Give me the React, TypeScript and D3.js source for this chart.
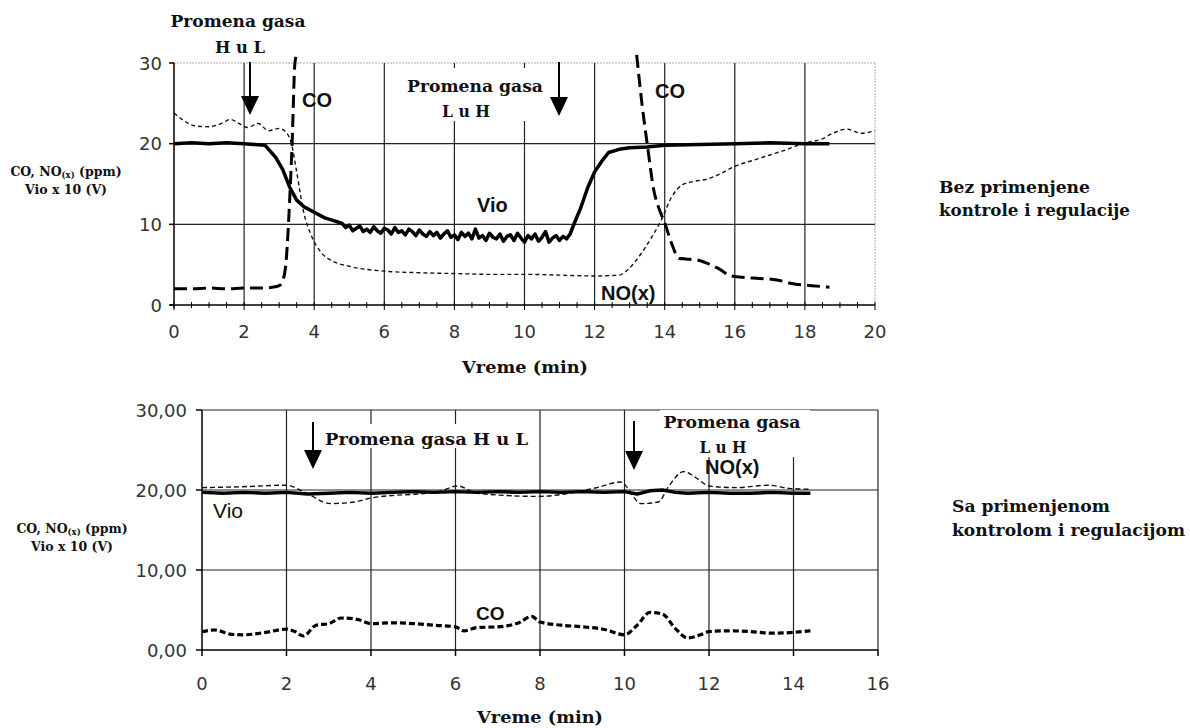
import React from 'react';
import * as d3 from 'd3';

// ---- top chart (bez kontrole) ----
const topTicksX = [0, 2, 4, 6, 8, 10, 12, 14, 16, 18, 20];
const topTicksY = [0, 10, 20, 30];

const topVioT = [0, 0.5, 1, 1.5, 2, 2.3, 2.6, 2.9, 3.1, 3.3, 3.5, 3.7, 4.0, 4.3, 4.6, 4.8,
  4.9, 5.0, 5.1, 5.2, 5.3, 5.4, 5.5, 5.6, 5.7, 5.8, 5.9, 6.0, 6.1, 6.2, 6.3, 6.4, 6.5, 6.6, 6.7, 6.8, 6.9,
  7.0, 7.1, 7.2, 7.3, 7.4, 7.5, 7.6, 7.7, 7.8, 7.9, 8.0, 8.1, 8.2, 8.3, 8.4, 8.5, 8.6, 8.7, 8.8, 8.9,
  9.0, 9.1, 9.2, 9.3, 9.4, 9.5, 9.6, 9.7, 9.8, 9.9, 10.0, 10.1, 10.2, 10.3, 10.4, 10.5, 10.6, 10.7, 10.8, 10.9,
  11.0, 11.1, 11.2, 11.3, 11.4, 11.6, 11.8, 12.0, 12.2, 12.4, 12.7, 13, 13.5, 14, 15, 16, 17, 18, 18.7];
const topVio = [20, 20.1, 20, 20.1, 20, 19.9, 19.8, 18.3, 16.8, 14.6, 13, 12.2, 11.5, 10.8, 10.4, 10.1,
  9.6, 9.9, 9.2, 9.5, 9.8, 9.1, 9.4, 9.0, 9.7, 9.2, 8.9, 9.5, 9.3, 8.8, 9.6, 9.0, 9.2, 8.7, 9.4, 9.1, 8.6,
  9.3, 8.8, 8.5, 9.1, 8.6, 9.0, 8.3, 8.8, 9.2, 8.4, 8.7, 8.1, 9.0, 8.5, 8.9, 8.2, 9.4, 8.3, 8.6, 8.0,
  8.9, 8.4, 8.2, 8.8, 7.9, 8.5, 8.7, 8.0, 8.9, 8.3, 7.8, 8.6, 8.2, 8.8, 7.9, 8.4, 9.1, 7.8, 8.3, 8.6,
  8.0, 8.5, 8.2, 8.8, 9.9, 12.0, 14.5, 16.5, 17.8, 18.9, 19.3, 19.5, 19.6, 19.8, 19.9, 20, 20.1, 20, 20];

const topNoT = [0, 0.3, 0.6, 1, 1.4, 1.6, 1.9, 2.1, 2.4, 2.7, 3.0, 3.2, 3.35, 3.5, 3.7, 3.9, 4.2, 4.5, 5,
  6, 7, 8, 9, 10, 11, 12, 12.7, 13, 13.3, 13.6, 13.9, 14.2, 14.5, 14.8, 15.2, 15.6, 16, 16.5, 17, 17.5,
  18, 18.5, 18.8, 19.2, 19.6, 20];
const topNo = [23.8, 22.8, 22.2, 22.1, 22.6, 23.0, 22.4, 22.0, 22.5, 21.6, 21.9, 21.4, 20.0, 16.5, 11.5,
  8.8, 6.5, 5.5, 4.8, 4.2, 4.0, 3.9, 3.8, 3.8, 3.7, 3.6, 3.7, 4.6, 6.2, 8.2, 10.5, 13.4, 14.9, 15.3, 15.6,
  16.3, 17.2, 17.9, 18.6, 19.3, 20.1, 20.6, 21.3, 21.8, 21.3, 21.6];

const topCo1T = [0, 0.5, 1, 1.5, 2, 2.5, 2.8, 3.0, 3.1, 3.2, 3.3, 3.37, 3.45, 3.5];
const topCo1 = [2, 2, 2.1, 2, 2.1, 2.1, 2.2, 2.4, 3.0, 5.5, 13, 20, 30, 31];
const topCo2T = [13.2, 13.35, 13.5, 13.7, 13.85, 14.0, 14.2, 14.4, 14.6, 14.9, 15.2, 15.5, 15.9, 16.3,
  16.7, 17.2, 17.7, 18.2, 18.7];
const topCo2 = [31, 25, 20, 14, 11.8, 10.2, 7.6, 5.8, 5.7, 5.6, 5.2, 4.6, 3.6, 3.4, 3.3, 3.1, 2.6, 2.4, 2.2];

// ---- bottom chart (sa kontrolom) ----
const botTicksX = [0, 2, 4, 6, 8, 10, 12, 14, 16];
const botTicksY = [0, 10, 20, 30];

const botVioT = [0, 0.5, 1, 1.5, 2, 2.5, 3, 3.5, 4, 4.5, 5, 5.5, 6, 6.5, 7, 7.5, 8, 8.5, 9, 9.5,
  10, 10.3, 10.6, 10.9, 11.2, 11.5, 12, 12.5, 13, 13.5, 14, 14.4];
const botVio = [19.7, 19.6, 19.7, 19.6, 19.7, 19.5, 19.6, 19.7, 19.6, 19.7, 19.8, 19.7, 19.8, 19.7,
  19.8, 19.7, 19.8, 19.7, 19.8, 19.7, 19.8, 19.5, 19.9, 20.0, 19.7, 19.6, 19.7, 19.6, 19.6, 19.7, 19.6, 19.6];

const botNoT = [0, 0.9, 2.0, 2.4, 3.05, 3.6, 4.0, 5.6, 6.06, 6.5, 7.95, 9.35, 9.9, 10.4, 10.8, 11.05,
  11.4, 11.7, 12, 12.65, 13.4, 13.9, 14.35];
const botNo = [20.3, 20.4, 20.6, 19.8, 18.3, 18.5, 19.0, 19.8, 20.5, 19.6, 19.2, 20.3, 21.0, 18.3, 18.5,
  20.5, 22.3, 21.5, 20.5, 20.3, 20.6, 20.2, 20.1];

const botCoT = [0, 0.3, 0.7, 1.0, 1.5, 2.0, 2.2, 2.4, 2.7, 3.0, 3.3, 3.7, 4.0, 4.5, 5.0, 5.5, 6.0, 6.2,
  6.5, 7.0, 7.5, 7.8, 8.0, 8.5, 9.0, 9.5, 10.0, 10.3, 10.6, 10.9, 11.2, 11.5, 11.8, 12.0, 12.5, 13.0,
  13.5, 14.0, 14.4];
const botCo = [2.3, 2.5, 1.96, 1.9, 2.2, 2.6, 2.3, 1.75, 3.1, 3.3, 4.0, 3.8, 3.3, 3.4, 3.3, 3.1, 2.9,
  2.4, 2.8, 2.9, 3.4, 4.2, 3.5, 3.1, 2.9, 2.6, 1.9, 3.1, 4.7, 4.5, 2.7, 1.5, 1.9, 2.3, 2.4, 2.3, 2.1, 2.2, 2.4];

const serif = '"DejaVu Serif", serif';
const sans = '"DejaVu Sans", sans-serif';
const arial = '"Liberation Sans", Arial, sans-serif';
const ink = '#111';

const zip = (t: number[], v: number[]) => t.map((d, i) => [d, v[i]] as [number, number]);

function Arrow({ x, y1, y2 }: { x: number; y1: number; y2: number }) {
  return (
    <g>
      <line x1={x} x2={x} y1={y1} y2={y2 - 16} stroke="#000" strokeWidth={2} />
      <path d={`M${x - 9},${y2 - 19} L${x + 9},${y2 - 19} L${x},${y2} Z`} fill="#000" />
    </g>
  );
}

// bold serif note, squeezed to the width measured on the reference
function Note({ x, y, w, children, anchor = 'start' }: { x: number; y: number; w: number; children: string; anchor?: string }) {
  return (
    <text x={x} y={y} textAnchor={anchor} fontFamily={serif} fontWeight="bold" fontSize={17.5} fill={ink}
      textLength={w} lengthAdjust="spacingAndGlyphs">{children}</text>
  );
}

function YLabel({ x, y }: { x: number; y: number }) {
  return (
    <text x={x} y={y} fontFamily={serif} fontWeight="bold" fontSize={12.5} fill={ink} textAnchor="middle">
      <tspan>CO, NO</tspan>
      <tspan fontSize={8.5} dy={2}>(x)</tspan>
      <tspan dy={-2}> (ppm)</tspan>
      <tspan x={x} dy={18}>Vio x 10 (V)</tspan>
    </text>
  );
}

export default function App() {
  // top scales
  const tx = d3.scaleLinear().domain([0, 20]).range([174, 875]);
  const ty = d3.scaleLinear().domain([0, 30]).range([305, 63]);
  // bottom scales
  const bx = d3.scaleLinear().domain([0, 16]).range([202, 878]);
  const by = d3.scaleLinear().domain([0, 30]).range([650, 410]);

  const topLin = d3.line<[number, number]>().x(d => tx(d[0])).y(d => ty(d[1]));
  const topSmooth = d3.line<[number, number]>().x(d => tx(d[0])).y(d => ty(d[1])).curve(d3.curveMonotoneX);
  const botLin = d3.line<[number, number]>().x(d => bx(d[0])).y(d => by(d[1]));
  const botSmooth = d3.line<[number, number]>().x(d => bx(d[0])).y(d => by(d[1])).curve(d3.curveMonotoneX);

  const topMinor = d3.range(0, 20.01, 0.5);

  return (
    <svg width={1190} height={728} style={{ position: 'absolute', left: 0, top: 0, background: '#fff' }}>
      {/* ===== TOP CHART ===== */}
      <g>
        {/* light border top/right */}
        <line x1={tx(0)} x2={tx(20)} y1={ty(30)} y2={ty(30)} stroke="#c8c8c8" strokeWidth={1.5} strokeDasharray="2,1" />
        <line x1={tx(20)} x2={tx(20)} y1={ty(30)} y2={ty(0)} stroke="#c8c8c8" strokeWidth={1.5} strokeDasharray="2,1" />
        {[10, 20].map(v => (
          <line key={v} x1={tx(0)} x2={tx(20)} y1={ty(v)} y2={ty(v)} stroke="#222" strokeWidth={1.2} />
        ))}
        {topTicksX.slice(1, -1).map(v => (
          <line key={v} x1={tx(v)} x2={tx(v)} y1={ty(30)} y2={ty(0)} stroke="#222" strokeWidth={1.2} />
        ))}
        {/* axes */}
        <line x1={tx(0)} x2={tx(0)} y1={ty(30)} y2={ty(0) + 3} stroke="#000" strokeWidth={1.5} />
        <line x1={tx(0) - 4} x2={tx(20)} y1={ty(0)} y2={ty(0)} stroke="#000" strokeWidth={1.5} />
        {topTicksY.map(v => (
          <line key={v} x1={tx(0) - 5} x2={tx(0)} y1={ty(v)} y2={ty(v)} stroke="#000" strokeWidth={1.5} />
        ))}
        {topMinor.map(v => (
          <line key={v} x1={tx(v)} x2={tx(v)} y1={ty(0) - 3} y2={ty(0) + (v % 2 === 0 ? 5 : 3)} stroke="#000" strokeWidth={1} />
        ))}
        {topTicksY.map(v => (
          <text key={v} x={162} y={ty(v) + 6.5} textAnchor="end" fontFamily={sans} fontSize={18} fill="#333">{v}</text>
        ))}
        {topTicksX.map(v => (
          <text key={v} x={tx(v)} y={338} textAnchor="middle" fontFamily={sans} fontSize={18} fill="#333">{v}</text>
        ))}

        {/* series */}
        <path d={topSmooth(zip(topNoT, topNo)) || ''} fill="none" stroke="#111" strokeWidth={1.4} strokeDasharray="4,3" />
        <path d={topLin(zip(topVioT, topVio)) || ''} fill="none" stroke="#000" strokeWidth={3.5} strokeLinejoin="round" />
        <path d={topSmooth(zip(topCo1T, topCo1)) || ''} fill="none" stroke="#000" strokeWidth={3} strokeDasharray="13,6" />
        <path d={topSmooth(zip(topCo2T, topCo2)) || ''} fill="none" stroke="#000" strokeWidth={3} strokeDasharray="13,6" />

        {/* annotations */}
        <Note x={238} y={27} w={135} anchor="middle">Promena gasa</Note>
        <Note x={240} y={53} w={50} anchor="middle">H u L</Note>
        <Arrow x={250} y1={62} y2={115} />
        <Arrow x={559} y1={62} y2={116} />
        <rect x={404} y={68} width={142} height={53} fill="#fff" />
        <Note x={475} y={92} w={136} anchor="middle">Promena gasa</Note>
        <Note x={466} y={117} w={48} anchor="middle">L u H</Note>
        <text x={302} y={107} fontFamily={arial} fontWeight="bold" fontSize={20} fill={ink}>CO</text>
        <text x={655} y={98} fontFamily={arial} fontWeight="bold" fontSize={20} fill={ink}>CO</text>
        <text x={477} y={212} fontFamily={arial} fontWeight="bold" fontSize={20} fill={ink}>Vio</text>
        <text x={601} y={300} fontFamily={arial} fontWeight="bold" fontSize={20} fill={ink}>NO(x)</text>

        <Note x={525} y={373} w={126} anchor="middle">Vreme (min)</Note>
        <YLabel x={66} y={176} />
        <Note x={939} y={193} w={151}>Bez primenjene</Note>
        <Note x={939} y={216} w={191}>kontrole i regulacije</Note>
      </g>

      {/* ===== BOTTOM CHART ===== */}
      <g>
        {[10, 20, 30].map(v => (
          <line key={v} x1={bx(0)} x2={bx(16)} y1={by(v)} y2={by(v)} stroke="#222" strokeWidth={1.2} />
        ))}
        {botTicksX.slice(1).map(v => (
          <line key={v} x1={bx(v)} x2={bx(v)} y1={by(30)} y2={by(0)} stroke="#222" strokeWidth={1.2} />
        ))}
        <line x1={bx(0)} x2={bx(0)} y1={by(30)} y2={by(0)} stroke="#000" strokeWidth={1.5} />
        <line x1={bx(0)} x2={bx(16)} y1={by(0)} y2={by(0)} stroke="#000" strokeWidth={1.5} />
        {botTicksY.map(v => (
          <line key={v} x1={bx(0) - 6} x2={bx(0)} y1={by(v)} y2={by(v)} stroke="#000" strokeWidth={1.5} />
        ))}
        {botTicksX.map(v => (
          <line key={v} x1={bx(v)} x2={bx(v)} y1={by(0)} y2={by(0) + 6} stroke="#000" strokeWidth={1.5} />
        ))}
        {botTicksY.map(v => (
          <text key={v} x={187} y={by(v) + 6.5} textAnchor="end" fontFamily={sans} fontSize={18} fill="#333">
            {d3.format('.2f')(v).replace('.', ',')}
          </text>
        ))}
        {botTicksX.map(v => (
          <text key={v} x={bx(v)} y={690} textAnchor="middle" fontFamily={sans} fontSize={18} fill="#333">{v}</text>
        ))}

        {/* series */}
        <path d={botSmooth(zip(botNoT, botNo)) || ''} fill="none" stroke="#111" strokeWidth={1.4} strokeDasharray="5,3" />
        <path d={botLin(zip(botVioT, botVio)) || ''} fill="none" stroke="#000" strokeWidth={3.4} strokeLinejoin="round" />
        <path d={botSmooth(zip(botCoT, botCo)) || ''} fill="none" stroke="#000" strokeWidth={3.2} strokeDasharray="6,3" />

        {/* annotations */}
        <Arrow x={313} y1={422} y2={469} />
        <Arrow x={634} y1={421} y2={470} />
        <rect x={322} y={424} width={210} height={24} fill="#fff" />
        <Note x={325} y={445} w={203}>Promena gasa H u L</Note>
        <rect x={660} y={410} width={150} height={47} fill="#fff" />
        <Note x={732} y={428} w={137} anchor="middle">Promena gasa</Note>
        <Note x={723} y={453} w={47} anchor="middle">L u H</Note>
        <text x={705} y={474} fontFamily={arial} fontWeight="bold" fontSize={20} fill={ink}>NO(x)</text>
        <text x={213} y={518} fontFamily={arial} fontSize={21} fill={ink}>Vio</text>
        <text x={476} y={620} fontFamily={arial} fontWeight="bold" fontSize={19} fill={ink}>CO</text>

        <Note x={540} y={723} w={126} anchor="middle">Vreme (min)</Note>
        <YLabel x={72} y={533} />
        <Note x={952} y={512} w={158}>Sa primenjenom</Note>
        <Note x={952} y={536} w={233}>kontrolom i regulacijom</Note>
      </g>
    </svg>
  );
}
